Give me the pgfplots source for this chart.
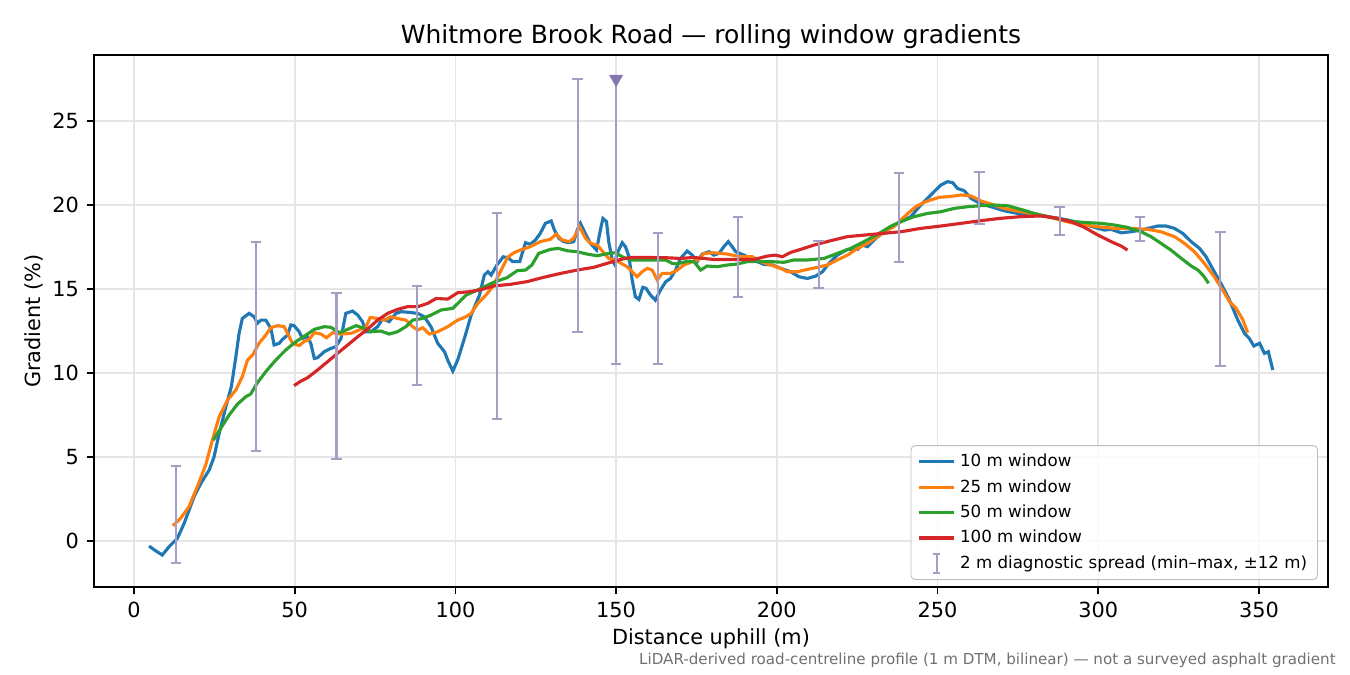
\documentclass[border=0pt]{standalone}
\usepackage{fontspec}
\setmainfont{DejaVu Sans}
\usepackage{pgfplots}
\usepackage{pgfplotstable}
\pgfplotsset{compat=1.18}

\definecolor{c10}{HTML}{1F77B4}
\definecolor{c25}{HTML}{FF7F0E}
\definecolor{c50}{HTML}{2CA02C}
\definecolor{c100}{HTML}{D62728}
\definecolor{barcol}{HTML}{A69DC4}
\definecolor{tricol}{HTML}{8676AE}
\definecolor{gridcol}{HTML}{E6E6E6}
\definecolor{notecol}{HTML}{707070}

% 10 m window
\pgfplotstableread{
x y
4.7 -0.30
6.5 -0.55
8.8 -0.83
10.9 -0.34
13.5 0.16
15.6 1.05
18.7 2.64
20.8 3.43
23.4 4.23
24.9 5.00
26.5 6.40
28.6 8.00
30.3 9.19
31.7 10.97
32.7 12.36
33.7 13.25
35.8 13.55
37.4 13.35
38.4 12.96
39.5 13.15
41.0 13.15
42.6 12.66
43.6 11.67
45.2 11.77
46.2 12.00
47.8 12.26
48.8 12.86
49.8 12.82
51.4 12.46
52.4 12.06
54.0 12.16
55.0 11.77
56.1 10.87
57.1 10.91
59.2 11.27
61.3 11.47
62.8 11.57
64.4 12.06
65.9 13.55
68.0 13.69
69.6 13.45
71.1 13.06
72.2 12.46
73.7 12.46
75.8 12.76
77.4 13.25
79.4 13.06
81.5 13.55
83.1 13.65
85.7 13.61
88.3 13.55
90.3 13.35
92.4 12.76
94.5 11.77
96.6 11.27
97.6 10.77
99.2 10.12
100.7 10.77
102.8 12.06
104.9 13.45
107.5 14.64
109.0 15.83
110.1 16.03
111.1 15.83
113.0 16.45
114.9 16.92
116.5 16.85
117.8 16.63
120.0 16.63
121.8 17.76
123.3 17.66
124.9 17.92
126.4 18.31
128.0 18.91
129.8 19.05
130.8 18.51
132.2 18.02
133.7 17.82
135.3 17.76
136.8 17.82
137.9 18.51
138.9 18.91
140.4 18.31
142.0 17.72
143.9 17.32
145.1 18.51
145.9 19.20
147.0 19.01
147.7 17.82
148.8 16.72
149.5 16.49
150.3 17.12
151.9 17.76
152.9 17.52
154.0 16.92
155.0 15.53
156.0 14.54
157.1 14.38
158.3 15.10
159.3 15.04
160.7 14.64
162.2 14.34
163.8 14.94
165.4 15.43
166.9 15.63
168.5 16.13
170.0 16.82
172.1 17.26
173.7 17.02
175.2 16.63
176.8 17.08
178.9 17.22
180.4 17.02
182.0 17.12
183.5 17.52
184.9 17.82
186.1 17.52
187.2 17.22
189.8 17.02
191.8 16.82
193.9 16.63
196.0 16.47
198.6 16.43
201.2 16.23
204.3 16.03
206.9 15.73
209.5 15.63
212.1 15.77
214.2 16.03
216.2 16.53
218.8 17.02
222.0 17.36
225.1 17.36
226.6 17.62
228.2 17.52
230.8 18.02
233.4 18.41
236.5 18.81
238.6 19.01
241.7 19.31
244.3 19.90
246.9 20.40
248.9 20.79
251.0 21.19
253.1 21.39
254.7 21.33
256.2 20.99
258.3 20.85
260.4 20.40
263.5 20.06
266.6 19.90
270.7 19.66
274.9 19.50
279.0 19.41
283.2 19.35
287.4 19.21
290.5 19.11
294.6 18.91
298.8 18.67
301.9 18.51
304.0 18.55
307.1 18.35
310.2 18.41
313.3 18.51
315.4 18.61
318.5 18.75
321.1 18.75
323.7 18.61
326.3 18.31
328.9 17.82
331.5 17.42
333.5 16.93
336.1 16.03
338.7 15.14
340.8 14.35
343.4 13.16
345.5 12.36
347.0 12.06
348.4 11.61
350.2 11.77
351.7 11.17
352.9 11.27
354.3 10.18
}\wten

% 25 m window
\pgfplotstableread{
x y
12.1 0.91
14.5 1.35
17.1 2.04
19.7 3.23
22.3 4.52
24.4 6.01
26.5 7.40
29.1 8.39
31.7 8.99
33.7 9.78
35.3 10.77
36.9 11.07
38.9 11.77
41.0 12.26
42.6 12.70
44.7 12.82
46.7 12.76
47.8 12.36
49.3 11.77
51.4 11.63
52.9 11.87
54.5 12.00
56.1 12.40
58.2 12.32
59.9 12.10
61.8 12.40
64.4 12.32
67.5 12.36
70.6 12.60
72.2 12.76
73.5 13.31
75.8 13.25
77.9 13.15
79.9 13.35
82.0 13.25
84.6 13.15
86.7 12.76
88.3 12.56
89.8 12.70
91.9 12.32
94.5 12.46
97.6 12.76
100.7 13.15
103.3 13.35
104.9 13.55
107.0 14.15
109.5 14.64
111.6 15.14
113.7 15.93
116.3 16.90
118.2 17.16
120.2 17.32
123.3 17.52
126.4 17.82
129.5 17.96
131.4 18.27
133.2 17.92
135.3 17.82
136.8 18.02
138.6 18.71
140.5 18.02
142.0 17.72
144.1 17.62
145.9 17.22
147.7 16.82
149.8 16.72
151.9 16.49
153.4 16.33
155.0 16.03
156.5 15.73
158.1 16.03
159.7 16.23
161.2 16.13
162.8 15.53
164.3 15.93
166.9 15.93
169.0 16.13
171.1 16.43
173.7 16.63
175.8 16.76
177.3 17.12
180.4 17.16
184.6 17.08
188.7 16.92
192.4 16.92
195.0 16.63
198.1 16.43
201.2 16.23
203.3 16.03
206.4 16.03
209.5 16.17
212.6 16.29
215.7 16.43
218.8 16.73
222.0 17.02
225.1 17.42
228.2 17.72
231.3 18.12
234.4 18.51
236.5 18.72
238.6 19.11
240.6 19.47
243.2 19.90
245.8 20.16
247.9 20.30
250.5 20.46
253.6 20.50
257.3 20.60
260.4 20.54
263.5 20.24
266.6 20.06
270.7 19.80
274.9 19.64
279.0 19.50
283.2 19.35
287.4 19.15
291.5 18.95
295.7 18.81
299.8 18.71
305.0 18.61
310.2 18.61
315.4 18.55
319.5 18.41
323.7 18.12
326.8 17.72
329.9 17.22
333.0 16.53
336.1 15.73
338.7 14.94
340.8 14.25
342.9 13.85
345.0 13.16
346.5 12.40
}\wtwentyfive

% 50 m window
\pgfplotstableread{
x y
24.7 6.01
27.0 6.71
29.6 7.50
32.2 8.15
34.8 8.59
36.3 8.75
38.4 9.42
41.0 10.08
44.1 10.77
47.2 11.37
50.4 11.87
53.5 12.26
56.1 12.60
59.2 12.76
61.3 12.72
63.9 12.40
66.5 12.60
69.1 12.82
71.7 12.66
73.7 12.46
76.8 12.50
79.4 12.32
82.0 12.46
84.6 12.76
86.7 13.15
89.8 13.25
92.4 13.45
95.5 13.75
99.2 13.85
101.3 14.25
103.3 14.64
107.0 14.95
111.9 15.40
116.1 15.68
119.2 16.09
121.8 16.13
123.8 16.43
125.9 17.12
128.0 17.26
129.5 17.36
132.1 17.42
134.7 17.28
137.9 17.22
141.0 17.08
144.1 16.98
147.7 17.12
149.8 17.16
151.9 16.92
154.5 16.73
159.7 16.73
165.4 16.73
167.4 16.53
169.0 16.49
171.6 16.63
174.2 16.63
176.3 16.13
178.3 16.37
181.5 16.33
184.6 16.43
187.7 16.49
190.8 16.63
195.0 16.63
198.1 16.63
202.2 16.59
205.3 16.73
209.5 16.73
214.7 16.82
218.8 17.12
223.0 17.42
227.1 17.82
231.3 18.25
235.4 18.73
238.6 19.01
242.7 19.31
246.9 19.50
251.0 19.60
255.2 19.80
259.3 19.90
263.5 19.96
267.6 20.00
271.8 19.96
275.9 19.74
280.1 19.50
284.2 19.31
288.4 19.15
292.5 19.01
296.7 18.95
300.9 18.91
305.0 18.81
309.1 18.67
313.3 18.41
316.4 18.12
319.5 17.72
322.6 17.32
325.8 16.83
328.9 16.37
331.0 16.13
332.8 15.77
334.3 15.34
}\wfifty

% 100 m window
\pgfplotstableread{
x y
49.8 9.25
51.9 9.52
54.0 9.72
57.1 10.18
60.2 10.67
63.3 11.17
66.5 11.67
69.6 12.16
72.7 12.62
75.8 13.15
78.9 13.55
82.0 13.79
85.1 13.95
88.3 13.95
91.4 14.15
94.0 14.44
97.6 14.40
100.7 14.78
104.3 14.84
108.0 14.96
111.9 15.18
117.1 15.28
122.3 15.44
127.5 15.70
132.7 15.93
137.9 16.13
143.0 16.29
147.2 16.53
151.4 16.76
154.5 16.88
159.7 16.88
165.9 16.86
170.0 16.82
174.2 16.88
180.4 16.76
186.6 16.76
192.9 16.76
197.0 16.96
199.6 17.02
201.7 16.92
204.3 17.18
207.4 17.36
211.6 17.62
216.8 17.88
222.0 18.12
227.1 18.21
232.3 18.30
238.6 18.41
244.8 18.61
251.0 18.75
257.3 18.91
263.5 19.07
269.7 19.21
275.9 19.31
282.2 19.35
287.4 19.21
291.5 19.01
295.7 18.67
299.8 18.22
304.0 17.82
307.1 17.56
309.1 17.32
}\whundred

% 2 m diagnostic spread: min and max in each +-12 m window
\pgfplotstableread{
x lo hi
13 -1.30 4.46
38 5.36 17.80
63 4.88 14.76
88 9.29 15.18
113 7.26 19.50
138 12.44 27.50
163 10.54 18.33
188 14.52 19.30
213 15.06 17.86
238 16.60 21.90
263 18.87 21.96
288 18.21 19.88
313 17.86 19.29
338 10.42 18.39
}\spread
\pgfplotstablecreatecol[create col/expr={0.5*(\thisrow{lo}+\thisrow{hi})}]{mid}\spread
\pgfplotstablecreatecol[create col/expr={0.5*(\thisrow{hi}-\thisrow{lo})}]{half}\spread

\begin{document}
\begin{tikzpicture}
\begin{axis}[
  at={(0,0)}, anchor=south west,
  scale only axis, width=592.3pt, height=255.4pt,
  xmin=-12.45, xmax=371.45, ymin=-2.74, ymax=28.93,
  xtick={0,50,...,350}, ytick={0,5,...,25},
  xtick pos=bottom, ytick pos=left,
  tick align=outside, major tick length=3.5pt,
  every tick/.style={black, line width=0.8pt},
  axis line style={line width=0.8pt},
  grid=major, major grid style={line width=0.8pt, gridcol},
  /pgf/number format/assume math mode=true,
  tick label style={font=\fontsize{10}{12}\selectfont},
  xticklabel style={inner sep=0pt, yshift=-3.5pt},
  yticklabel style={inner sep=0pt, xshift=-3.5pt},
  legend cell align=left,
  legend style={at={(rel axis cs:0.9919,0.0133)}, anchor=south east,
    font=\fontsize{8}{9.6}\selectfont, draw=gridcol!60!gray, rounded corners=2pt,
    fill=white, fill opacity=0.8, text opacity=1, row sep=0.6pt,
    inner xsep=3pt, inner ysep=2pt},
]
\addplot[c10, line width=1.5pt] table[x=x, y=y] {\wten};
\addlegendentry{10 m window}
\addplot[c25, line width=1.5pt] table[x=x, y=y] {\wtwentyfive};
\addlegendentry{25 m window}
\addplot[c50, line width=1.5pt] table[x=x, y=y] {\wfifty};
\addlegendentry{50 m window}
\addplot[c100, line width=1.5pt] table[x=x, y=y] {\whundred};
\addlegendentry{100 m window}
\addplot[draw=none, mark=none,
  legend image code/.code={
    \draw[barcol, line width=1pt] (0.3cm,-4.5pt) -- (0.3cm,4.5pt);
    \draw[barcol, line width=1pt] (0.3cm-1.8pt,-4.5pt) -- (0.3cm+1.8pt,-4.5pt);
    \draw[barcol, line width=1pt] (0.3cm-1.8pt,4.5pt) -- (0.3cm+1.8pt,4.5pt);
  },
  error bars/.cd, y dir=both, y explicit,
  error bar style={draw=barcol, line width=1pt},
  error mark options={draw=barcol, line width=1pt, mark size=2.5pt, rotate=90}]
  table[x=x, y=mid, y error=half] {\spread};
\addlegendentry{2 m diagnostic spread (min–max, ±12 m)}
% clipped bar at 150 m (max off the chart)
\addplot[forget plot, draw=none, mark=none,
  error bars/.cd, y dir=minus, y explicit,
  error bar style={draw=barcol, line width=1pt},
  error mark options={draw=barcol, line width=1pt, mark size=2.5pt, rotate=90}]
  coordinates {(150,27.5) -= (0,16.96)};
\addplot[forget plot, only marks, mark=triangle*, mark size=3.5pt,
  mark options={rotate=180, fill=tricol, draw=tricol}]
  coordinates {(150,27.5)};
\end{axis}
\node[anchor=base, font=\fontsize{12}{14}\selectfont] at (296.15pt,261.1pt)
  {Whitmore Brook Road — rolling window gradients};
\node[anchor=base, font=\fontsize{10}{12}\selectfont] at (296.15pt,-27.4pt)
  {Distance uphill (m)};
\node[rotate=90, font=\fontsize{10}{12}\selectfont] at (-28.8pt,127.7pt)
  {Gradient (\%)};
\node[anchor=base east, font=\fontsize{7.25}{8.5}\selectfont, text=notecol, inner sep=0pt]
  at (596.2pt,-37pt)
  {LiDAR-derived road-centreline profile (1 m DTM, bilinear) — not a surveyed asphalt gradient};
\path[use as bounding box] (-45.1pt,-42.2pt) rectangle (602.9pt,281.8pt);
\end{tikzpicture}
\end{document}
